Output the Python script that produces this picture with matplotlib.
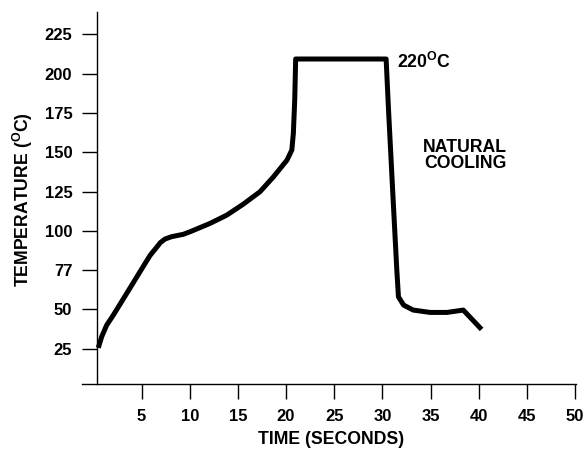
import numpy as np
import matplotlib
matplotlib.use("Agg")
import matplotlib.pyplot as plt

plt.rcParams['font.family'] = ['Liberation Sans', 'DejaVu Sans']
plt.rcParams['font.weight'] = 'bold'
plt.rcParams['mathtext.fontset'] = 'custom'
plt.rcParams['mathtext.rm'] = 'Liberation Sans:bold'
plt.rcParams['mathtext.it'] = 'Liberation Sans:bold'
plt.rcParams['mathtext.bf'] = 'Liberation Sans:bold'
plt.rcParams['mathtext.default'] = 'bf'

# reflow profile (seconds, deg C)
time_s = [0.51, 0.86, 1.38, 2.07, 3.46, 4.84, 5.9, 6.5, 6.95, 7.44, 8.13,
          9.34, 10.03, 12.1, 13.85, 15.57, 17.3, 18.7, 20.1, 20.6, 20.76,
          20.9, 21.0, 30.39, 30.63, 31.15, 31.5, 31.67, 32.2, 33.2, 34.96,
          36.7, 38.4, 40.3]
temp_c = [25.6, 32.6, 40.0, 46.4, 60.2, 74.0, 84.5, 89.0, 92.5, 94.8, 96.3,
          97.8, 99.4, 104.7, 110.0, 117.0, 124.9, 134.4, 145.0, 151.4, 162.0,
          183.0, 209.3, 209.3, 178.0, 116.0, 75.0, 58.0, 52.8, 49.6, 48.1,
          48.1, 49.6, 37.3]

x_ticks = [5, 10, 15, 20, 25, 30, 35, 40, 45, 50]
y_ticks = [25, 50, 75, 100, 125, 150, 175, 200, 225]
y_tick_labels = ['25', '50', '77', '100', '125', '150', '175', '200', '225']

fig = plt.figure(figsize=(5.85, 4.5), dpi=100)
ax = fig.add_axes([82 / 585, (450 - 383.5) / 450, 494 / 585, 371.5 / 450])

ax.plot(time_s, temp_c, color='black', lw=3.6,
        solid_joinstyle='round', solid_capstyle='butt')

ax.set_xlim(-1.18, 50.1)
ax.set_ylim(2.9, 239.2)

ax.spines['top'].set_visible(False)
ax.spines['right'].set_visible(False)
ax.spines['left'].set_position(('data', 0.34))
for s in ('left', 'bottom'):
    ax.spines[s].set_linewidth(1.0)

ax.set_xticks(x_ticks)
ax.set_yticks(y_ticks)
ax.set_yticklabels(y_tick_labels)
ax.tick_params(axis='both', direction='out', length=11, width=1.0,
               labelsize=12)
ax.tick_params(axis='y', pad=6.5)
ax.tick_params(axis='x', pad=7.5)
for lab in ax.get_xticklabels() + ax.get_yticklabels():
    lab.set_fontweight('bold')

ax.text(31.5, 203.3, r'220$^{\mathbf{O}}$C', fontsize=12.7, fontweight='bold',
        ha='left', va='baseline')
ax.text(38.6, 148, 'NATURAL\nCOOLING', fontsize=12.7, fontweight='bold',
        ha='center', va='center', linespacing=0.88)

fig.text(22.5 / 585, 1 - 200 / 450, r'TEMPERATURE ($^{\mathbf{O}}$C)',
         rotation=90, ha='center', va='center', fontsize=12.7,
         fontweight='bold')
fig.text(331 / 585, 1 - 439.5 / 450, 'TIME (SECONDS)', ha='center',
         va='center', fontsize=12.7, fontweight='bold')

fig.savefig('out.png', dpi=100)
